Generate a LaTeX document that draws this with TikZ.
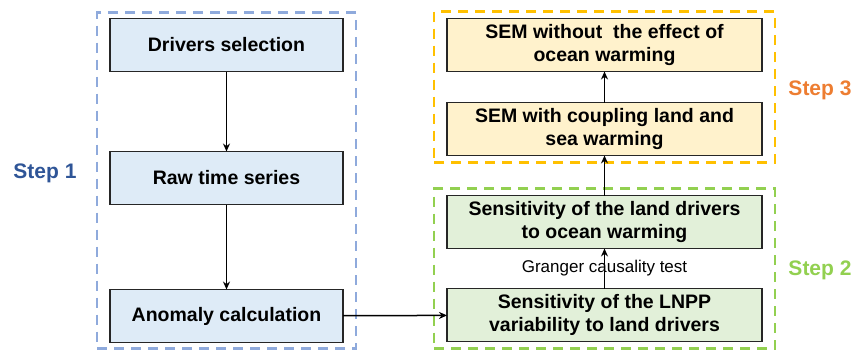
\documentclass[tikz,border=0pt]{standalone}
\usepackage{fontspec}
\setmainfont{Liberation Sans}
\usepackage{xcolor}
\definecolor{stepblue}{HTML}{2F5597}
\definecolor{steporange}{HTML}{ED7D31}
\definecolor{stepgreen}{HTML}{92D050}
\definecolor{frameblue}{HTML}{8FAADC}
\definecolor{frameyellow}{HTML}{FFC000}
\definecolor{fillblue}{HTML}{DEEBF7}
\definecolor{fillyellow}{HTML}{FFF2CC}
\definecolor{fillgreen}{HTML}{E2F0D9}
\usetikzlibrary{arrows.meta, positioning, fit}

\begin{document}
\begin{tikzpicture}[
    x=1pt, y=-1pt,
    node distance=80pt,
    box/.style={draw=black!85, line width=1.9pt, align=center, inner sep=2pt, outer sep=0pt,
                minimum height=53pt, font=\fontsize{19.5}{23.5}\selectfont\bfseries},
    leftbox/.style={box, fill=fillblue, minimum width=233pt},
    rightbox/.style={box, minimum width=315pt},
    frame/.style={draw, dash pattern=on 10pt off 7pt, line width=2.8pt, inner xsep=13pt},
    steplabel/.style={font=\fontsize{21}{25}\selectfont\bfseries},
    arrow/.style={-{Stealth[length=8pt, width=7pt]}, line width=1.5pt, draw=black}
]
\useasboundingbox (0,0) rectangle (857,351);

% Step 1: preprocessing
\node[leftbox] (drivers) at (226.5,45) {Drivers selection};
\node[leftbox, below=80pt of drivers] (raw) {Raw time series};
\node[leftbox, below=85pt of raw] (anomaly) {Anomaly calculation};

% Step 2: sensitivity
\node[rightbox, fill=fillgreen] (lnpp) at (604.5,315) {Sensitivity of the LNPP\\variability to land drivers};
\node[rightbox, fill=fillgreen, above=40pt of lnpp] (landdrv) {Sensitivity of the land drivers\\to ocean warming};

% Step 3: SEM
\node[rightbox, fill=fillyellow, above=40pt of landdrv] (coupling) {SEM with coupling land and\\sea warming};
\node[rightbox, fill=fillyellow, above=31pt of coupling] (noocean) {SEM without~~the effect of\\ocean warming};

% Dashed frames
\node[frame, draw=frameblue, fit=(drivers)(anomaly), inner ysep=6pt] (frame1) {};
\node[frame, draw=stepgreen, fit=(landdrv)(lnpp), inner ysep=7pt] (frame2) {};
\node[frame, draw=frameyellow, fit=(noocean)(coupling), inner ysep=7pt] (frame3) {};

% Step labels
\node[steplabel, text=stepblue] (step1) at (45,173) {Step 1};
\node[steplabel, text=stepgreen] (step2) at (820,270) {Step 2};
\node[steplabel, text=steporange] (step3) at (820,90) {Step 3};

% Connecting Arrows
\draw[arrow] (drivers) -- (raw);
\draw[arrow] (raw) -- (anomaly);
\draw[arrow] (anomaly) -- (lnpp);
\draw[arrow] (lnpp) -- node[font=\fontsize{17}{20}\selectfont] {Granger causality test} (landdrv);
\draw[arrow] (landdrv) -- (coupling);
\draw[arrow] (coupling) -- (noocean);

\end{tikzpicture}
\end{document}
